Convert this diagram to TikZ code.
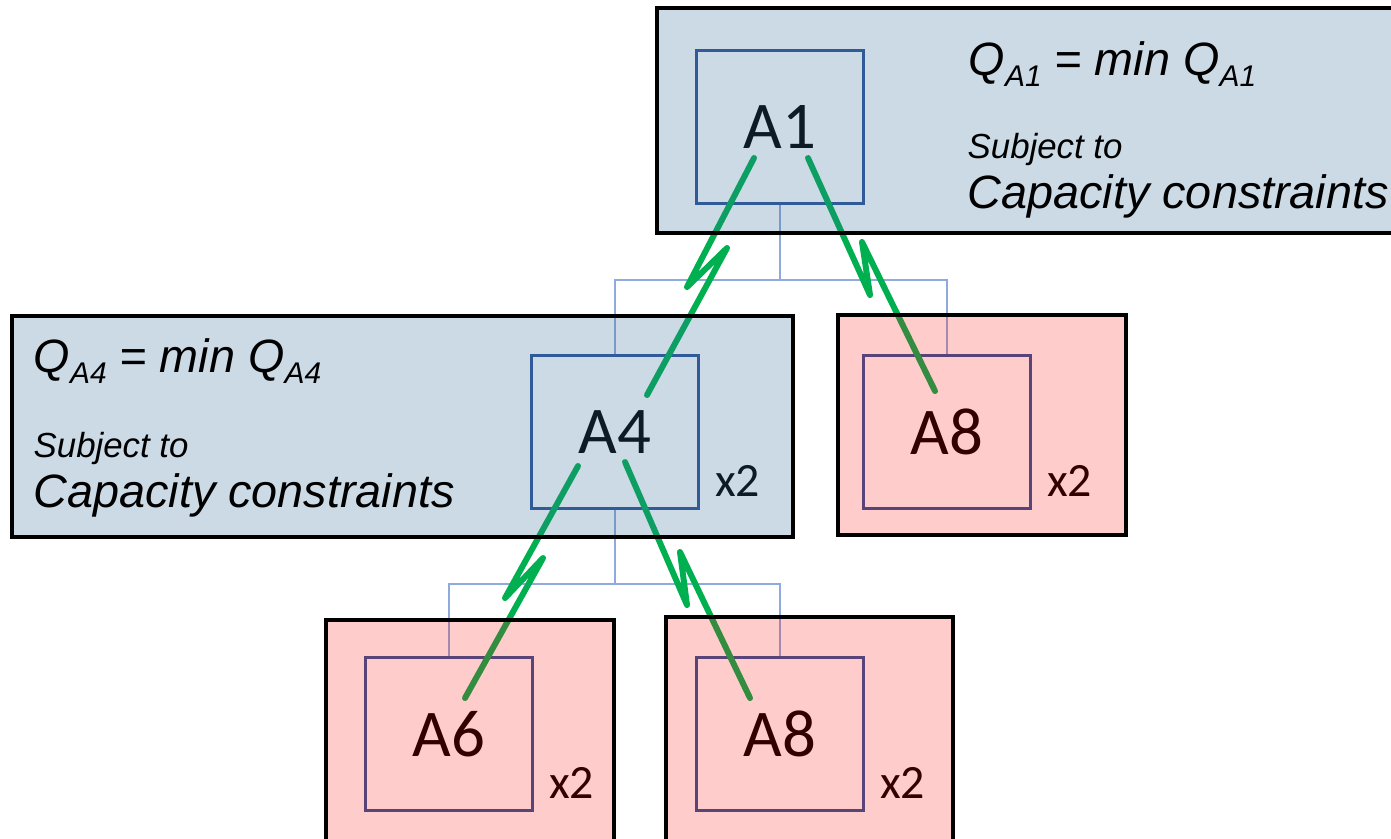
\documentclass[tikz,border=0pt]{standalone}
\usepackage{fontspec}
\setmainfont{Carlito}
\newfontfamily\arialfont{Liberation Sans}
\usetikzlibrary{positioning}
\definecolor{boxcol}{RGB}{47,85,151}
\definecolor{treecol}{RGB}{143,170,220}
\definecolor{zapcol}{RGB}{0,176,80}
\definecolor{tintblue}{RGB}{52,108,156}
\definecolor{tintred}{RGB}{255,0,0}
\newcommand{\qsub}[1]{\raisebox{-0.25em}{\fontsize{8.5}{8.5}\selectfont #1}}

\begin{document}
\begin{tikzpicture}[x=0.01cm, y=-0.01cm,
    partbox/.style={draw=boxcol, line width=0.85pt, fill=white, inner sep=0pt,
      minimum width=1.66cm, minimum height=1.53cm, font=\fontsize{19}{22}\selectfont},
    treeline/.style={draw=treecol, line width=0.7pt},
    zap/.style={draw=zapcol, line width=1.7pt, line cap=round, line join=round},
    panel/.style={draw=black, line width=1.15pt},
    bluepanel/.style={panel, fill=tintblue, fill opacity=0.25},
    redpanel/.style={panel, fill=tintred, fill opacity=0.2},
    multlabel/.style={anchor=base west, inner sep=0pt, font=\fontsize{13.6}{16}\selectfont},
    eqn/.style={anchor=base west, inner sep=0pt, font=\arialfont\itshape\fontsize{13.3}{16}\selectfont},
    subj/.style={anchor=base west, inner sep=0pt, font=\arialfont\itshape\fontsize{9.9}{12}\selectfont}]

  \useasboundingbox (0,0) rectangle (1391,838);
  \clip (0,0) rectangle (1391,838);

  % Parts.
  \node[partbox] (A1)  at (780,127) {A1};
  \node[partbox] (A4)  at (615,432) {A4};
  \node[partbox] (A8a) at (947,432) {A8};
  \node[partbox] (A6)  at (449,734) {A6};
  \node[partbox] (A8b) at (780,734) {A8};

  % Tree connectors.
  \coordinate (bus1) at (0,280);
  \coordinate (bus2) at (0,584);
  \foreach \kid in {A4,A8a} {
    \draw[treeline] (A1.south) -- (A1.south |- bus1) -| (\kid.north);
  }
  \foreach \kid in {A6,A8b} {
    \draw[treeline] (A4.south) -- (A4.south |- bus2) -| (\kid.north);
  }

  % Quantities.
  \foreach \part in {A4,A8a,A6,A8b} {
    \node[multlabel] (n\part) at ([shift={(15,-14)}]\part.south east) {x2};
  }

  % Lightning links.
  \draw[zap] ([shift={(-26,31)}]A1.center) -- (687,287) -- (727,248)
    -- ([shift={(32,-37)}]A4.center);
  \draw[zap] ([shift={(28,31)}]A1.center) -- (870,295) -- (862,242)
    -- ([shift={(-12,-41)}]A8a.center);
  \draw[zap] ([shift={(-37,34)}]A4.center) -- (505,598) -- (543,558)
    -- ([shift={(16,-36)}]A6.center);
  \draw[zap] ([shift={(10,30)}]A4.center) -- (687,605) -- (680,552)
    -- ([shift={(-30,-36)}]A8b.center);

  % Panels.
  \draw[bluepanel] (657,8) rectangle (1410,233);
  \draw[bluepanel] (12,316) rectangle (793,537);
  \draw[redpanel] (838,315) rectangle (1126,535);
  \draw[redpanel] (326,620) rectangle (614,860);
  \draw[redpanel] (666,617) rectangle (953,860);

  % Optimisation texts.
  \node[eqn]  (qA1) at (968,75)  {Q\qsub{A1} = min Q\qsub{A1}};
  \node[subj] (sA1) at (967,158) {Subject to};
  \node[eqn]  (cA1) at (967,208) {Capacity constraints};
  \node[eqn]  (qA4) at (33,372)  {Q\qsub{A4} = min Q\qsub{A4}};
  \node[subj] (sA4) at (33,457)  {Subject to};
  \node[eqn]  (cA4) at (33,507)  {Capacity constraints};

\end{tikzpicture}
\end{document}
